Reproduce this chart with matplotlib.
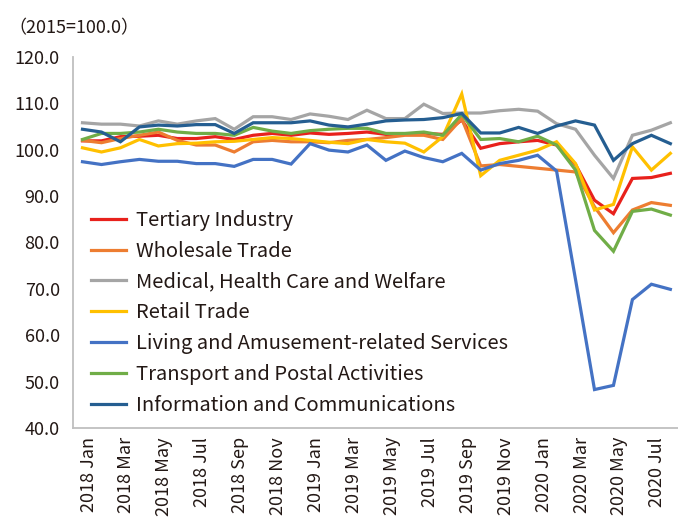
import matplotlib
matplotlib.use("Agg")
import matplotlib.pyplot as plt
import matplotlib.transforms as mtransforms
import numpy as np

plt.rcParams['font.family'] = ['Noto Sans CJK JP', 'DejaVu Sans']

# ---------------- DATOS (2015=100.0) ----------------
meses = []
for anio in (2018, 2019, 2020):
    for m in ["Jan", "Feb", "Mar", "Apr", "May", "Jun", "Jul", "Aug", "Sep", "Oct", "Nov", "Dec"]:
        meses.append(f"{anio} {m}")
meses = meses[:32]  # 2018 Jan .. 2020 Aug

terciario = [101.9, 101.9, 102.8, 102.9, 103.1, 102.4, 102.4, 102.8, 102.2, 103.1, 103.5, 103.1,
             103.6, 103.3, 103.5, 103.8, 103.3, 103.3, 103.5, 103.3, 106.4, 100.3, 101.3, 101.7,
             102.0, 101.0, 96.8, 89.1, 86.2, 93.8, 94.0, 94.9]
mayorista = [102.0, 101.5, 102.4, 103.1, 103.8, 102.0, 101.0, 101.0, 99.5, 101.7, 102.0, 101.7,
             101.7, 101.5, 102.0, 102.2, 102.6, 103.1, 103.1, 102.2, 106.7, 96.5, 96.8, 96.4,
             96.0, 95.6, 95.2, 87.7, 82.1, 87.0, 88.6, 88.0]
salud = [105.8, 105.5, 105.5, 105.1, 106.2, 105.5, 106.2, 106.7, 104.4, 107.1, 107.1, 106.5,
         107.7, 107.2, 106.5, 108.5, 106.7, 106.7, 109.8, 107.8, 107.9, 107.9, 108.4, 108.7,
         108.3, 105.6, 104.4, 98.8, 93.8, 103.1, 104.2, 105.8]
minorista = [100.4, 99.5, 100.4, 102.2, 100.8, 101.3, 101.4, 101.7, 101.8, 102.2, 102.6, 102.4,
             102.0, 101.6, 101.3, 102.2, 101.7, 101.4, 99.5, 102.8, 112.0, 94.4, 97.7, 98.8,
             99.9, 101.7, 97.0, 87.0, 88.2, 100.6, 95.6, 99.2]
ocio = [97.4, 96.8, 97.4, 97.9, 97.5, 97.5, 97.0, 97.0, 96.4, 97.9, 97.9, 96.9,
        101.3, 99.9, 99.5, 101.0, 97.7, 99.7, 98.3, 97.4, 99.2, 95.6, 97.0, 97.7,
        98.8, 95.4, 72.0, 48.3, 49.2, 67.7, 71.0, 69.9]
transporte = [102.2, 103.5, 103.5, 103.8, 104.4, 103.8, 103.5, 103.5, 103.1, 104.8, 104.0, 103.5,
              104.1, 104.4, 104.6, 104.6, 103.5, 103.5, 103.8, 103.1, 107.6, 102.2, 102.4, 101.7,
              102.9, 101.0, 95.6, 82.6, 78.1, 86.7, 87.2, 85.9]
info = [104.4, 103.8, 101.7, 104.9, 105.3, 105.1, 105.4, 105.4, 103.5, 105.8, 105.8, 105.8,
        106.2, 105.3, 104.9, 105.5, 106.2, 106.4, 106.5, 106.9, 107.8, 103.6, 103.6, 104.8,
        103.5, 105.1, 106.2, 105.3, 97.7, 101.3, 103.1, 101.3]

series = [
    ("Tertiary Industry", terciario, "#E8211C"),
    ("Wholesale Trade", mayorista, "#ED7D31"),
    ("Medical, Health Care and Welfare", salud, "#A5A5A5"),
    ("Retail Trade", minorista, "#FFC000"),
    ("Living and Amusement-related Services", ocio, "#4472C4"),
    ("Transport and Postal Activities", transporte, "#70AD47"),
    ("Information and Communications", info, "#255E91"),
]

# ---------------- GRAFICO ----------------
fig = plt.figure(figsize=(6.78, 5.17), dpi=100)
ax = fig.add_axes([0.1077, 0.172, 0.895, 0.718])

x = np.arange(len(meses))
for nombre, valores, color in series:
    ax.plot(x, valores, color=color, linewidth=2.3, label=nombre, solid_joinstyle="miter")

ax.set_xlim(-0.5, len(meses) - 0.5)
ax.set_ylim(40, 120)
ax.set_yticks(np.arange(40, 121, 10))
ax.set_yticklabels([f"{v:.1f}" for v in np.arange(40, 121, 10)], fontsize=13, color="#231815")
ax.set_xticks(x[::2])
ax.set_xticklabels(meses[::2], rotation=90, fontsize=13, color="#231815")
ax.tick_params(axis="y", length=0, pad=9.5)
ax.tick_params(axis="x", length=0, pad=6.5)

# etiquetas del eje x un poco corridas a la derecha
desplazamiento = mtransforms.ScaledTranslation(6 / 100, 0, fig.dpi_scale_trans)
for etiqueta in ax.get_xticklabels():
    etiqueta.set_transform(etiqueta.get_transform() + desplazamiento)

for lado in ("top", "right"):
    ax.spines[lado].set_visible(False)
for lado in ("left", "bottom"):
    ax.spines[lado].set_color("#BFBFBF")
    ax.spines[lado].set_linewidth(1.3)

fig.text(0.012, 0.936, "（2015=100.0）", fontsize=13, color="#231815")

ax.legend(
    loc="upper left",
    bbox_to_anchor=(0.0, 0.637),
    frameon=False,
    fontsize=14.5,
    handlelength=1.75,
    handletextpad=0.48,
    labelspacing=0.49,
    labelcolor="#231815",
)

plt.savefig("out.png", dpi=100)
plt.close()
